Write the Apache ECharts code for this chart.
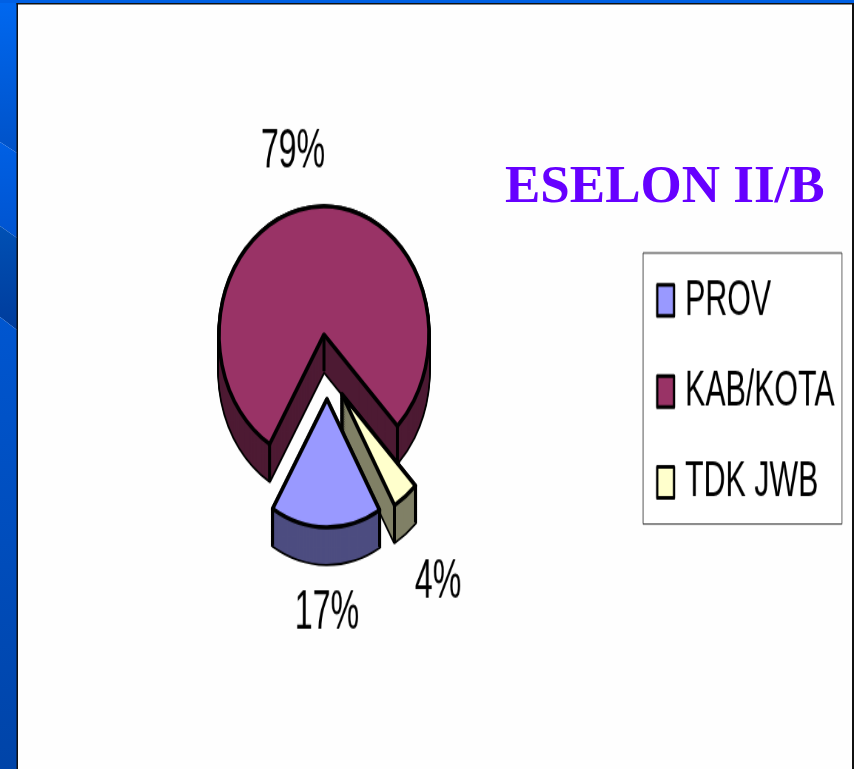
<!DOCTYPE html>
<html><head><meta charset="utf-8">
<style>html,body{margin:0;padding:0;background:#fff;overflow:hidden}
#bg{position:absolute;left:0;top:0;width:854px;height:769px}
#pie{position:absolute;left:0;top:0;width:854px;height:630px;transform-origin:0 0;transform:scaleY(1.2206)}
#txt{position:absolute;left:0;top:0;width:1154px;height:620px;transform-origin:0 0;transform:scale(0.74,1.24)}
</style>
<script src="https://cdn.jsdelivr.net/npm/echarts@6/dist/echarts.min.js"></script>
</head><body><div id="bg"></div><div id="pie"></div><div id="txt"></div>
<script>
const titleText = 'ESELON II/B';
const categories = ['PROV', 'KAB/KOTA', 'TDK JWB'];
const values = [17, 79, 4];
const topColors = ['#9999ff', '#993366', '#ffffcc'];
const sideColors = ['#4d4d80', '#4d1a33', '#808066'];

const R = 105, DEPTH = 30, STEP = 2;
const START = -60;
// exploded slice centres, in the pie chart's own frame
const centers = [[327, 327], [324, 274], [342, 323]];
const order = [1, 2, 0];           // painter's order: back to front
// condensed text layer frame and label spots on the page
const TX = 0.74, TY = 1.24;
const labelSpots = [[327, 614], [293, 152], [438, 583]];

function layer(cat, dy, fill, border, bw, z) {
  return {
    type: 'pie', silent: true, animation: false, z,
    center: [centers[cat][0], centers[cat][1] + dy], radius: [0, R],
    startAngle: START, clockwise: true, avoidLabelOverlap: false,
    label: { show: false }, labelLine: { show: false },
    data: categories.map((name, i) => ({
      name, value: values[i],
      itemStyle: i === cat
        ? { color: fill, borderColor: border, borderWidth: bw, borderJoin: 'round' }
        : { color: 'transparent', borderWidth: 0 }
    }))
  };
}

const series = [];
const graphics = [];
const total = values.reduce((a, b) => a + b, 0);
const bounds = [];
let ang = 90 - START;
values.forEach(v => { const a0 = ang; ang += v / total * 360; bounds.push([a0, ang]); });

order.forEach((cat, k) => {
  const z = 2 + k * 3;
  for (let d = DEPTH; d >= 0; d -= STEP) series.push(layer(cat, d, '#000', '#000', 3.5, z));
  for (let d = DEPTH; d >= 0; d -= STEP) series.push(layer(cat, d, sideColors[cat], 'transparent', 0, z));
  series.push(layer(cat, 0, topColors[cat], '#000', 3.5, z + 2));
  const [cx, cy] = centers[cat];
  const pts = [[cx, cy]].concat(bounds[cat].map(deg => {
    const t = deg * Math.PI / 180;
    return [cx + R * Math.sin(t), cy - R * Math.cos(t)];
  }));
  pts.forEach(([x, y]) => graphics.push({
    type: 'line', z: z + 1, silent: true,
    shape: { x1: x, y1: y, x2: x, y2: y + DEPTH },
    style: { stroke: '#000', lineWidth: 3 }
  }));
});

const pie = echarts.init(document.getElementById('pie'), null, { renderer: 'canvas' });
pie.setOption({ backgroundColor: 'transparent', animation: false, graphic: graphics, series });

// legend and percentage labels: condensed text layer
const txt = echarts.init(document.getElementById('txt'), null, { renderer: 'canvas' });
const noFill = { color: 'transparent', borderWidth: 0 };
txt.setOption({
  backgroundColor: 'transparent', animation: false,
  legend: {
    orient: 'vertical', left: 869, top: 204, selectedMode: false,
    padding: [17.8, 10, 13, 17.6], itemGap: 32.4, itemWidth: 22.7, itemHeight: 25,
    borderColor: '#333', borderWidth: 1, backgroundColor: '#fff',
    textStyle: { fontFamily: '"Liberation Sans"', fontSize: 41, color: '#000',
      padding: [0, 0, 0, 10] },
    data: categories.map((name, i) => ({ name, icon: 'rect',
      itemStyle: { color: topColors[i], borderColor: '#000', borderWidth: 3 } }))
  },
  series: categories.map((name, cat) => ({
    type: 'pie', silent: true, animation: false,
    center: [centers[cat][0] / TX, centers[cat][1] * 1.2206 / TY], radius: [0, 100],
    startAngle: START, clockwise: true, avoidLabelOverlap: false,
    labelLine: { show: false },
    labelLayout: { x: labelSpots[cat][0] / TX, y: labelSpots[cat][1] / TY, align: 'center', verticalAlign: 'middle', hideOverlap: false },
    data: categories.map((n, i) => ({
      name: n, value: values[i], itemStyle: noFill,
      label: i === cat
        ? { show: true, position: 'outside', formatter: '{c}%', color: '#000', fontFamily: '"Liberation Sans"', fontSize: 43.5 }
        : { show: false }
    }))
  }))
});

const bg = echarts.init(document.getElementById('bg'), null, { renderer: 'canvas' });
const grad = (y0, y1, c0, c1) => ({ type: 'linear', x: 0, y: y0, x2: 0, y2: y1, global: true,
  colorStops: [{ offset: 0, color: c0 }, { offset: 1, color: c1 }] });
const band = (yl0, yr0, yl1, yr1, c0, c1) => ({ type: 'polygon',
  shape: { points: [[0, yl0], [17, yr0], [17, yr1], [0, yl1]] },
  style: { fill: grad(yl0, yr1, c0, c1) }, silent: true });
bg.setOption({
  backgroundColor: '#fefefe', animation: false,
  title: { text: titleText, left: 505, top: 162, padding: 0,
    textStyle: { fontFamily: '"Liberation Serif"', fontWeight: 'bold', fontSize: 53, color: '#6600ff' } },
  graphic: [
    band(0, 0, 142, 153, '#0068f0', '#0052c8'),
    band(142, 153, 226, 238, '#0060e4', '#0054d0'),
    band(226, 238, 317, 330, '#0050b4', '#003c9c'),
    band(317, 330, 769, 769, '#0056d0', '#0044a8'),
    { type: 'rect', shape: { x: 0, y: 0, width: 854, height: 3 }, style: { fill: '#0060e4' }, silent: true },
    { type: 'rect', shape: { x: 16.5, y: 3, width: 838, height: 1.5 }, style: { fill: '#111' }, silent: true },
    { type: 'rect', shape: { x: 16.5, y: 3, width: 1.5, height: 766 }, style: { fill: '#111' }, silent: true },
    { type: 'rect', shape: { x: 852, y: 3, width: 2, height: 766 }, style: { fill: '#111' }, silent: true }
  ]
});
</script></body></html>
